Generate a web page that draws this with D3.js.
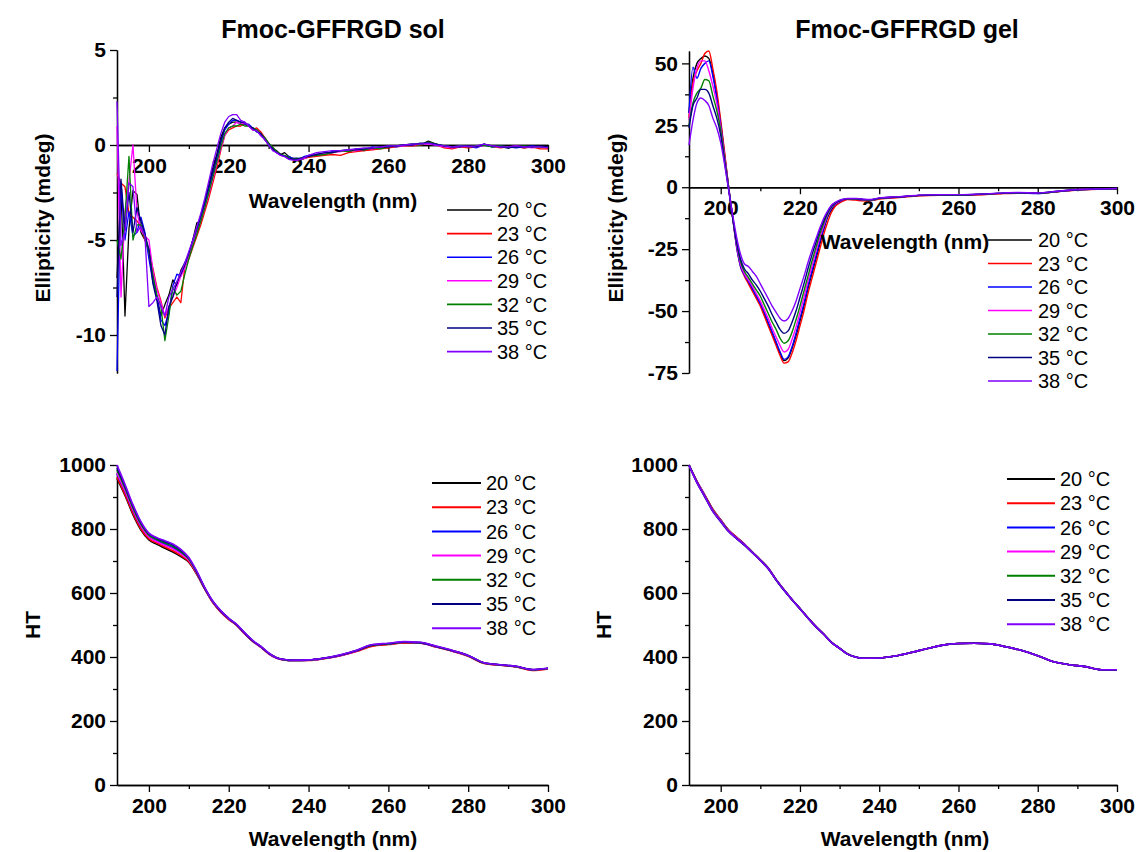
<!DOCTYPE html>
<html>
<head>
<meta charset="utf-8">
<script src="https://cdn.jsdelivr.net/npm/d3@7"></script>
<style>
  html, body { margin: 0; padding: 0; background: #fff; }
  svg { display: block; font-family: "Liberation Sans", Arial, Helvetica, sans-serif; }
  .axis text { font-size: 21px; font-weight: bold; fill: #000; font-family: "Liberation Sans", Arial, sans-serif; }
  .axis path, .axis line { stroke: #000; stroke-width: 1.3; }
  .title { font-size: 25px; font-weight: bold; }
  .axis-title { font-size: 21px; font-weight: bold; }
  .legend text { font-size: 20px; }
</style>
</head>
<body>
<svg id="chart" width="1141" height="852"></svg>
<script>
// ---- series labels and colours ----
const temperatures = ["20 °C", "23 °C", "26 °C", "29 °C", "32 °C", "35 °C", "38 °C"];
const seriesColors = ["#000000", "#ff0000", "#0000ff", "#ff00ff", "#008000", "#000080", "#8000ff"];

// ---- wavelength grids (nm) ----
const solCdWavelength = d3.range(192, 241).concat(d3.range(242, 301, 2));
const gelCdWavelength = d3.range(192, 233).concat([234, 236, 238, 240], d3.range(245, 301, 5));
const htWavelength = d3.range(192, 237, 2).concat(d3.range(240, 301, 4));

// ---- CD ellipticity (mdeg), Fmoc-GFFRGD sol ----
const solCd20 = [-7.0,-2.2,-9.0,-4.4,-2.4,-2.6,-4.6,-5.0,-5.5,-6.8,-8.0,-9.0,-8.4,-7.9,-7.1,-7.4,-6.6,-6.2,-5.8,-5.0,-4.1,-4.0,-3.0,-2.1,-1.2,-0.5,0.4,0.9,1.1,1.2,1.2,1.1,1.1,1.0,0.9,0.8,0.6,0.3,0.1,-0.2,-0.3,-0.5,-0.4,-0.6,-0.7,-0.7,-0.8,-0.7,-0.6,
  -0.55,-0.5,-0.35,-0.3,-0.35,-0.25,-0.3,-0.2,-0.1,-0.15,-0.05,0,0.05,0,0.2,0.05,-0.1,-0.1,-0.05,-0.1,-0.1,0.05,-0.1,-0.1,-0.15,-0.05,-0.15,-0.1,-0.1,-0.15];
const solCd23 = [-1.5,-2.0,-2.2,-3.6,-3.8,-4.0,-4.3,-5.0,-5.6,-6.5,-7.5,-8.2,-9.1,-8.6,-8.3,-8.0,-8.3,-6.4,-6.0,-5.4,-4.8,-4.2,-3.5,-2.8,-2.0,-1.2,-0.3,0.5,0.8,0.9,1.0,1.0,1.1,1.0,0.8,0.9,0.7,0.4,0.1,-0.1,-0.4,-0.5,-0.6,-0.7,-0.7,-0.8,-0.7,-0.7,-0.65,
  -0.6,-0.55,-0.5,-0.55,-0.4,-0.35,-0.3,-0.25,-0.2,-0.15,-0.1,-0.05,-0.05,0,0.1,0,-0.15,-0.2,-0.1,-0.15,-0.1,0,-0.05,-0.15,-0.1,-0.1,-0.15,-0.1,-0.2,-0.2];
const solCd26 = [-11.9,-2.0,-5.0,-3.5,-4.8,-4.6,-3.8,-4.6,-6.0,-7.2,-8.0,-9.2,-9.5,-8.8,-7.4,-6.8,-6.9,-6.2,-5.8,-5.1,-4.5,-3.8,-3.1,-2.3,-1.5,-0.7,0.1,0.8,1.1,1.3,1.3,1.2,1.1,1.1,0.9,0.7,0.6,0.3,0.1,-0.2,-0.4,-0.5,-0.6,-0.6,-0.7,-0.7,-0.7,-0.6,-0.55,
  -0.5,-0.45,-0.35,-0.3,-0.3,-0.2,-0.25,-0.1,-0.15,-0.05,-0.1,0,0.05,0.05,0.1,0,-0.05,-0.1,-0.05,-0.05,-0.15,0,-0.1,-0.05,-0.1,-0.15,-0.1,-0.05,-0.1,-0.1];
const solCd29 = [1.0,-8.0,-3.5,-1.9,0.0,-3.5,-4.5,-4.8,-5.0,-6.6,-7.6,-8.3,-9.0,-8.5,-8.0,-7.5,-6.9,-6.5,-5.8,-5.2,-4.6,-4.0,-3.3,-2.6,-1.8,-1.0,-0.2,0.5,0.9,1.0,1.2,1.1,1.2,1.0,0.8,0.8,0.5,0.3,0.0,-0.2,-0.4,-0.55,-0.6,-0.7,-0.75,-0.8,-0.75,-0.7,-0.6,
  -0.5,-0.45,-0.4,-0.35,-0.3,-0.3,-0.2,-0.2,-0.15,-0.1,-0.05,-0.05,0,0.05,0.05,0,-0.1,-0.15,-0.1,-0.05,-0.1,0,-0.05,-0.1,-0.1,-0.05,-0.1,-0.15,-0.1,-0.1];
const solCd32 = [-5.0,-6.0,-3.8,-0.6,-5.0,-4.2,-4.2,-4.9,-5.6,-6.9,-7.9,-8.5,-10.3,-9.0,-7.5,-7.9,-7.7,-6.8,-6.0,-5.3,-4.7,-4.0,-3.3,-2.5,-1.7,-0.9,-0.1,0.6,0.9,1.0,1.0,1.1,1.0,1.0,0.9,0.8,0.6,0.4,0.1,-0.1,-0.35,-0.5,-0.55,-0.65,-0.75,-0.7,-0.7,-0.65,-0.6,
  -0.55,-0.5,-0.4,-0.3,-0.35,-0.2,-0.25,-0.15,-0.2,-0.1,-0.05,0,0.05,0,0.15,0.05,-0.05,-0.1,-0.05,-0.1,-0.05,0,-0.1,-0.05,-0.1,-0.1,-0.05,-0.1,-0.1,-0.1];
const solCd35 = [-8.0,-1.8,-4.5,-2.5,-4.6,-3.3,-4.0,-4.7,-5.5,-7.3,-8.2,-9.5,-10.0,-8.5,-8.0,-7.2,-6.8,-6.3,-5.7,-5.0,-4.4,-3.7,-3.0,-2.2,-1.4,-0.6,0.2,0.9,1.2,1.4,1.3,1.2,1.2,1.0,0.9,0.7,0.6,0.3,0.0,-0.2,-0.4,-0.5,-0.6,-0.7,-0.75,-0.75,-0.7,-0.65,-0.6,
  -0.5,-0.4,-0.4,-0.3,-0.25,-0.25,-0.2,-0.15,-0.1,-0.1,-0.05,0,0,0.1,0.1,0.05,-0.05,-0.1,-0.1,-0.05,-0.1,0.05,-0.05,-0.1,-0.15,-0.1,-0.1,-0.1,-0.05,-0.1];
const solCd38 = [2.3,-5.3,-4.5,-2.0,-2.2,-4.6,-4.3,-4.8,-8.5,-8.3,-8.0,-8.5,-9.0,-8.0,-7.6,-7.2,-6.7,-6.2,-5.6,-5.0,-4.3,-3.6,-2.8,-1.9,-1.0,-0.2,0.6,1.2,1.5,1.6,1.6,1.3,1.2,1.0,0.8,0.75,0.5,0.3,0.0,-0.3,-0.4,-0.55,-0.6,-0.75,-0.8,-0.8,-0.75,-0.65,-0.55,
  -0.4,-0.35,-0.3,-0.3,-0.25,-0.2,-0.15,-0.15,-0.1,-0.05,-0.05,0,0.05,0.05,0.1,0,-0.05,-0.1,-0.05,-0.1,-0.05,0.05,-0.05,-0.1,-0.1,-0.05,-0.1,-0.1,-0.1,-0.15];

// ---- CD ellipticity (mdeg), Fmoc-GFFRGD gel ----
const gelCd20 = [30,44,50,52,53,52,46,37,26,13,0,-12,-23,-31,-35,-38,-41,-44,-47,-51,-55,-59,-63,-67,-70,-69,-65,-60,-54,-48,-41,-35,-29,-23,-17,-12,-9,-7,-6,-5.2,-4.8,
  -4.8,-5.1,-5.2,-4.6,-4.0,-3.4,-3.2,-3.2,-3.0,-2.6,-2.3,-2.3,-1.8,-1.0,-0.8,-0.6];
const gelCd23 = [28,42,47,50,54,55,48,39,27,14,0,-12,-24,-32,-36,-39,-42,-45,-48,-52,-56,-60,-64,-68,-71,-70.5,-67,-62,-56,-50,-43,-37,-31,-25,-19,-14,-10,-7.5,-6.3,-5.5,-5.0,
  -5.2,-5.5,-5.4,-4.8,-4.2,-3.5,-3.3,-3.3,-3.1,-2.7,-2.4,-2.5,-1.8,-1.1,-0.8,-0.7];
const gelCd26 = [30,48.5,44,48,50,51,45,36,25,12,0,-12,-24,-32,-35.5,-38,-41,-44,-47,-50.5,-54.5,-58.5,-62.5,-66.5,-69.5,-68.5,-64.5,-59,-53,-47,-40,-34,-28,-22,-16.5,-11.5,-8.5,-6.8,-5.8,-5.0,-4.7,
  -4.8,-5.1,-5.2,-4.5,-4.0,-3.3,-3.1,-3.2,-2.9,-2.5,-2.3,-2.6,-1.7,-1.0,-0.8,-0.6];
const gelCd29 = [27,40,48,51,51,47,41,34,24,12,0,-12,-23,-31,-35,-37.5,-40,-43,-46,-49.5,-53,-57,-60.5,-64,-66.5,-65.5,-61.5,-56.5,-50.5,-44.5,-38,-32,-26,-20.5,-15.5,-11,-8,-6.5,-5.6,-5.0,-4.6,
  -4.7,-5.0,-5.1,-4.5,-3.9,-3.3,-3.1,-3.1,-2.9,-2.5,-2.2,-2.4,-1.7,-1.0,-0.7,-0.6];
const gelCd32 = [25,34,38,40,43.5,43,37,31,23,11,0,-12,-22,-30,-34,-36.5,-39,-41.5,-44,-47.5,-51,-54.5,-57.5,-61,-63,-62,-58.5,-53.5,-48,-42,-36,-30,-24.5,-19,-14.5,-10.5,-7.8,-6.3,-5.5,-4.9,-4.6,
  -4.7,-5.0,-5.1,-4.5,-3.9,-3.3,-3.1,-3.2,-2.9,-2.5,-2.3,-2.5,-1.7,-1.0,-0.8,-0.6];
const gelCd35 = [24,33,36,39.5,39.5,38,33,28,21,10,-1,-12,-22,-29,-33,-35,-37.5,-39.5,-42,-45,-48,-51.5,-54.5,-57.5,-59,-58,-54.5,-50,-44.5,-39,-33,-27.5,-22.5,-17.5,-13.5,-10,-7.5,-6.2,-5.4,-4.9,-4.6,
  -4.6,-4.9,-5.0,-4.4,-3.9,-3.3,-3.1,-3.1,-2.8,-2.5,-2.2,-2.4,-1.6,-1.0,-0.7,-0.5];
const gelCd38 = [17,27,34,36,35,33,28,24,18,9,-1,-11,-20,-27,-31,-32,-34,-36,-39,-42,-45,-48,-50.5,-53,-54,-53,-50,-46,-41,-36,-30.5,-25.5,-21,-16.5,-12.5,-9.5,-7.2,-6,-5.2,-4.8,-4.5,
  -4.5,-4.8,-4.9,-4.3,-3.8,-3.2,-3.0,-3.0,-2.8,-2.4,-2.1,-2.3,-1.6,-0.9,-0.7,-0.5];

// ---- HT voltage, Fmoc-GFFRGD sol ----
const solHt20 = [958,905,845,797,766,752,740,728,714,696,658,612,571,541,518,499,473,449,432,411,397,391,389,390,396,405,419,436,440,445,444,432,419,404,381,375,370,360,364];
const solHt23 = [962,908,849,800,769,756,744,732,717,698,659,612,570,540,517,499,472,449,431,410,396,390,389,389,395,404,417,434,439,444,443,431,418,402,380,374,369,358,363];
const solHt26 = [972,918,858,808,776,763,752,742,725,704,663,614,573,542,519,500,474,450,432,411,397,391,389,390,396,405,419,437,441,446,444,432,419,404,381,375,370,360,364];
const solHt29 = [975,920,860,810,775,760,749,738,722,702,662,614,572,542,519,500,474,450,432,411,397,391,389,390,396,405,419,437,441,446,444,432,419,404,381,375,370,360,364];
const solHt32 = [985,928,866,815,781,767,756,746,729,706,664,615,573,543,520,501,475,451,433,412,398,391,389,390,396,406,420,437,441,446,445,433,420,404,381,375,370,360,364];
const solHt35 = [990,934,872,820,785,771,760,750,733,709,666,616,574,544,521,501,475,451,433,412,398,392,390,391,397,406,420,438,442,447,445,433,420,405,382,376,371,361,365];
const solHt38 = [1000,940,876,823,787,773,763,753,736,711,668,617,575,545,521,502,476,452,434,413,398,392,390,391,397,407,421,439,443,448,446,434,421,405,382,376,371,361,365];

// ---- HT voltage, Fmoc-GFFRGD gel ----
const gelHt20 = [1000,950,906,862,829,797,775,753,728,704,678,642,610,580,552,523,496,472,446,428,410,400,396,397,403,414,426,437,442,443,441,432,420,404,385,376,370,360,360];
const gelHt23 = [1000,949,905,861,828,796,774,752,728,703,677,641,609,579,551,522,495,471,445,427,409,400,396,397,403,413,426,437,442,443,441,432,420,404,385,376,370,360,360];
const gelHt26 = [1000,947,903,858,826,794,772,751,727,703,677,641,609,579,551,522,495,471,445,427,409,400,396,397,403,414,426,437,442,443,441,432,420,404,385,376,370,360,360];
const gelHt29 = [999,948,904,859,827,795,773,751,727,703,677,641,609,579,551,522,495,471,445,427,409,400,396,397,403,414,426,437,442,443,441,432,420,404,385,376,370,360,360];
const gelHt32 = [1000,946,902,857,825,793,771,750,726,702,676,641,609,579,551,522,495,471,445,427,409,400,396,397,403,414,426,437,442,443,441,432,420,404,385,376,370,360,360];
const gelHt35 = [1000,945,900,855,823,792,770,749,726,702,676,640,608,579,551,522,495,471,445,427,409,400,396,397,403,414,426,437,442,443,441,432,420,404,385,376,370,360,360];
const gelHt38 = [999,945,901,856,824,792,770,750,726,702,676,641,609,579,551,522,495,471,445,427,409,400,396,397,403,414,426,437,442,443,441,432,420,404,385,376,370,360,360];

// ---- axis ticks ----
const wlMajor = [200, 220, 240, 260, 280, 300];
const wlMinor = [210, 230, 250, 270, 290];
const solCdMajor = [-10, -5, 0, 5];
const solCdMinor = [-7.5, -2.5, 2.5];
const gelCdMajor = [-75, -50, -25, 0, 25, 50];
const gelCdMinor = [-62.5, -37.5, -12.5, 12.5, 37.5];
const htMajor = [0, 200, 400, 600, 800, 1000];
const htMinor = [100, 300, 500, 700, 900];

// plain labels: hyphen minus, no thousands separator
const plainLabel = d => String(d);

const svg = d3.select("#chart");

function drawPanel(cfg) {
  const x = d3.scaleLinear().domain([192, 300]).range(cfg.xRange);
  const y = d3.scaleLinear().domain(cfg.yDomain).range(cfg.yRange);
  const g = svg.append("g");

  // y axis: minor then major ticks
  g.append("g").attr("class", "axis").attr("transform", `translate(${cfg.xRange[0]},0)`)
    .call(d3.axisLeft(y).tickValues(cfg.yMinor).tickSize(4).tickSizeOuter(0).tickFormat(""));
  g.append("g").attr("class", "axis").attr("transform", `translate(${cfg.xRange[0]},0)`)
    .call(d3.axisLeft(y).tickValues(cfg.yMajor).tickSize(7).tickPadding(4).tickSizeOuter(0).tickFormat(plainLabel));

  // wavelength axis, placed at zero
  const y0 = y(0);
  g.append("g").attr("class", "axis").attr("transform", `translate(0,${y0})`)
    .call(d3.axisBottom(x).tickValues(wlMinor).tickSize(4).tickSizeOuter(0).tickFormat(""));
  g.append("g").attr("class", "axis").attr("transform", `translate(0,${y0})`)
    .call(d3.axisBottom(x).tickValues(wlMajor).tickSize(7).tickPadding(6).tickSizeOuter(0).tickFormat(plainLabel));

  g.selectAll(".axis").attr("font-size", null).attr("font-family", null);

  // spectra
  const line = d3.line()
    .x((d, i) => x(cfg.wavelength[i]))
    .y(d => y(d))
    .curve(cfg.curve);
  cfg.series.forEach((s, k) => {
    g.append("path")
      .attr("d", line(s))
      .attr("fill", "none")
      .attr("stroke", seriesColors[k])
      .attr("stroke-width", cfg.lineWidth)
      .attr("stroke-linejoin", "round");
  });

  // legend
  const lg = g.append("g").attr("class", "legend");
  temperatures.forEach((t, k) => {
    const ry = cfg.legend.y0 + k * cfg.legend.dy;
    lg.append("line")
      .attr("x1", cfg.legend.x1).attr("x2", cfg.legend.x2)
      .attr("y1", ry).attr("y2", ry)
      .attr("stroke", seriesColors[k]).attr("stroke-width", cfg.legend.lw);
    lg.append("text")
      .attr("x", cfg.legend.tx).attr("y", ry).attr("dy", "0.36em")
      .text(t);
  });

  // axis titles
  g.append("text").attr("class", "axis-title")
    .attr("x", cfg.xTitle[0]).attr("y", cfg.xTitle[1])
    .attr("text-anchor", "middle").text("Wavelength (nm)");
  g.append("text").attr("class", "axis-title")
    .attr("transform", `translate(${cfg.yTitle[0]},${cfg.yTitle[1]}) rotate(-90)`)
    .attr("text-anchor", "middle").text(cfg.yLabel);

  if (cfg.title) {
    g.append("text").attr("class", "title")
      .attr("x", cfg.title[0]).attr("y", cfg.title[1])
      .attr("text-anchor", "middle").text(cfg.title[2]);
  }
}

drawPanel({
  xRange: [117, 548], yDomain: [-12, 5], yRange: [373, 50],
  yMajor: solCdMajor, yMinor: solCdMinor,
  wavelength: solCdWavelength,
  series: [solCd20, solCd23, solCd26, solCd29, solCd32, solCd35, solCd38],
  curve: d3.curveLinear, lineWidth: 1.3,
  legend: { x1: 447, x2: 492, tx: 497, y0: 210, dy: 23.6, lw: 1.6 },
  xTitle: [333, 208], yTitle: [50, 218], yLabel: "Ellipticity (mdeg)",
  title: [333, 38, "Fmoc-GFFRGD sol"]
});

drawPanel({
  xRange: [689, 1117], yDomain: [-75, 55], yRange: [373, 51],
  yMajor: gelCdMajor, yMinor: gelCdMinor,
  wavelength: gelCdWavelength,
  series: [gelCd20, gelCd23, gelCd26, gelCd29, gelCd32, gelCd35, gelCd38],
  curve: d3.curveMonotoneX, lineWidth: 1.4,
  legend: { x1: 988, x2: 1032, tx: 1038, y0: 240, dy: 23.5, lw: 1.6 },
  xTitle: [905, 249], yTitle: [623, 218], yLabel: "Ellipticity (mdeg)",
  title: [907, 38, "Fmoc-GFFRGD gel"]
});

drawPanel({
  xRange: [117, 548], yDomain: [0, 1000], yRange: [785, 465],
  yMajor: htMajor, yMinor: htMinor,
  wavelength: htWavelength,
  series: [solHt20, solHt23, solHt26, solHt29, solHt32, solHt35, solHt38],
  curve: d3.curveMonotoneX, lineWidth: 1.6,
  legend: { x1: 432, x2: 481, tx: 486, y0: 483, dy: 24.2, lw: 2 },
  xTitle: [333, 846], yTitle: [40, 625], yLabel: "HT"
});

drawPanel({
  xRange: [689, 1117], yDomain: [0, 1000], yRange: [785, 465],
  yMajor: htMajor, yMinor: htMinor,
  wavelength: htWavelength,
  series: [gelHt20, gelHt23, gelHt26, gelHt29, gelHt32, gelHt35, gelHt38],
  curve: d3.curveMonotoneX, lineWidth: 1.6,
  legend: { x1: 1007, x2: 1055, tx: 1060, y0: 479, dy: 24.2, lw: 2 },
  xTitle: [905, 846], yTitle: [611, 625], yLabel: "HT"
});
</script>
</body>
</html>
